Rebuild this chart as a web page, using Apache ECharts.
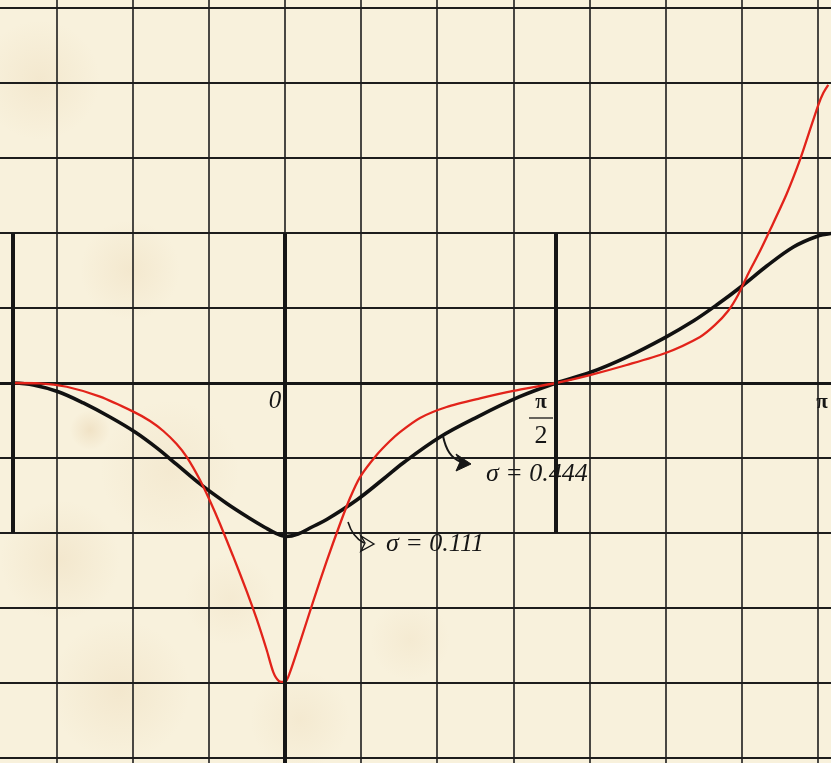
<!DOCTYPE html>
<html><head><meta charset="utf-8">
<script src="https://cdn.jsdelivr.net/npm/echarts@6/dist/echarts.min.js"></script>
<style>html,body{margin:0;padding:0;background:#f7f0da}#c{width:831px;height:763px}</style>
</head><body><div id="c"></div><script>
// sigma = 0.444 (black) — x in radians, y in chart units
const blackX = [-1.571,-1.453,-1.309,-1.164,-1.010,-0.865,-0.739,-0.624,-0.489,-0.334,-0.200,-0.113,-0.049,0.009,0.078,0.159,0.244,0.418,0.572,0.686,0.900,1.114,1.357,1.571,1.767,1.980,2.201,2.365,2.500,2.651,2.790,2.944,3.079,3.162];
const blackY = [0,-0.013,-0.058,-0.133,-0.227,-0.327,-0.433,-0.543,-0.673,-0.803,-0.903,-0.963,-1.003,-1.023,-1.007,-0.960,-0.910,-0.780,-0.640,-0.533,-0.360,-0.227,-0.093,0,0.070,0.173,0.303,0.413,0.520,0.650,0.780,0.907,0.977,0.997];
// sigma = 0.111 (red)
const redX = [-1.571,-1.415,-1.260,-1.067,-0.875,-0.778,-0.701,-0.624,-0.566,-0.489,-0.431,-0.373,-0.298,-0.219,-0.161,-0.103,-0.065,-0.032,0.003,0.032,0.090,0.167,0.244,0.321,0.379,0.437,0.533,0.610,0.668,0.784,0.938,1.131,1.324,1.571,1.767,1.980,2.201,2.404,2.491,2.566,2.624,2.682,2.751,2.809,2.905,2.982,3.040,3.088,3.117,3.146];
const redY = [0,-0.002,-0.025,-0.091,-0.191,-0.253,-0.320,-0.407,-0.493,-0.647,-0.787,-0.940,-1.153,-1.387,-1.573,-1.780,-1.927,-1.987,-1.993,-1.927,-1.727,-1.453,-1.187,-0.940,-0.767,-0.627,-0.480,-0.387,-0.327,-0.233,-0.160,-0.103,-0.053,0,0.053,0.120,0.198,0.307,0.387,0.480,0.587,0.727,0.880,1.020,1.260,1.487,1.687,1.853,1.933,1.987];
// markers on x axis (radians)
const markerX = [-Math.PI/2, 0, Math.PI/2];
const seriesNames = ['σ=0.444','σ=0.111'];

const blackData = blackX.map((x,i)=>[x,blackY[i]]);
const redData = redX.map((x,i)=>[x,redY[i]]);

const chart = echarts.init(document.getElementById('c'), null, {renderer:'canvas'});
const ink = '#161616';
const serif = '"Liberation Serif","DejaVu Serif",serif';

function stain(cx, cy, r, a){
  return {type:'circle', z:-10, silent:true, shape:{cx:cx, cy:cy, r:r},
    style:{fill:{type:'radial', x:0.5, y:0.5, r:0.5, colorStops:[
      {offset:0, color:'rgba(210,168,110,'+a+')'},{offset:1, color:'rgba(210,168,110,0)'}]}}};
}
function txt(x, y, t, font, align){
  return {type:'text', z:10, x:x, y:y, style:{text:t, font:font, fill:ink,
    align:align||'center', verticalAlign:'middle', textAlign:align||'center', textVerticalAlign:'middle'}};
}

const option = {
  backgroundColor:'#f8f1dc',
  animation:false,
  grid:{left:-19.4, right:-62.8, top:-67, bottom:-70, containLabel:false, outerBoundsMode:'none'},
  xAxis:[
    {type:'value', min:-1.7582, max:3.5250, axisLine:{show:true, onZero:true, lineStyle:{color:ink, width:3}},
     axisTick:{show:false}, axisLabel:{show:false}, splitLine:{show:false}},
    {type:'value', min:-4, max:8, interval:1, axisLine:{show:false}, axisTick:{show:false},
     axisLabel:{show:false}, splitLine:{show:true, lineStyle:{color:'#1d1d1d', width:1.6}}}
  ],
  yAxis:{type:'value', min:-3, max:3, interval:0.5, axisLine:{show:false}, axisTick:{show:false},
    axisLabel:{show:false}, splitLine:{show:true, lineStyle:{color:'#1d1d1d', width:1.9}}},
  series:[
    {name:seriesNames[0], type:'line', data:blackData, smooth:0.35, symbol:'none', z:3,
     lineStyle:{color:'#111', width:3.6},
     markLine:{silent:true, symbol:['none','none'], label:{show:false},
       lineStyle:{color:ink, width:4, type:'solid'},
       data:[
         [{coord:[markerX[0],1]},{coord:[markerX[0],-1]}],
         [{coord:[markerX[1],1]},{coord:[markerX[1],-3]}],
         [{coord:[markerX[2],1]},{coord:[markerX[2],-1]}]
       ]}},
    {name:seriesNames[1], type:'line', data:redData, smooth:0.25, symbol:'none', z:4,
     lineStyle:{color:'#e2231a', width:2.3}}
  ],
  graphic:[
    stain(40,80,60,0.12), stain(130,270,50,0.12), stain(170,470,70,0.1),
    stain(60,560,60,0.13), stain(120,690,70,0.13), stain(300,720,50,0.1), stain(410,640,40,0.09),
    stain(90,430,20,0.2), stain(230,600,45,0.09),
    txt(275, 401, '0', 'italic 25px '+serif),
    txt(541, 403, 'π', 'bold 21px '+serif),
    {type:'line', z:10, shape:{x1:529, y1:418, x2:553, y2:418}, style:{stroke:ink, lineWidth:1.3}},
    txt(541, 436, '2', '26px '+serif),
    txt(822, 403, 'π', 'bold 21px '+serif),
    txt(486, 474, 'σ = 0.444', 'italic 26px '+serif, 'left'),
    txt(386, 544, 'σ = 0.111', 'italic 26px '+serif, 'left'),
    {type:'bezierCurve', z:10, shape:{x1:443, y1:436, cpx1:446, cpy1:450, cpx2:451, cpy2:458, x2:461, y2:462},
     style:{stroke:ink, lineWidth:2, fill:null}},
    {type:'polygon', z:10, shape:{points:[[471,464],[456,454],[460,462],[456,471]]}, style:{fill:ink, stroke:ink, lineWidth:1}},
    {type:'bezierCurve', z:10, shape:{x1:348, y1:522, cpx1:351, cpy1:532, cpx2:356, cpy2:539, x2:364, y2:543},
     style:{stroke:ink, lineWidth:1.6, fill:null}},
    {type:'polygon', z:10, shape:{points:[[374,544],[361,536],[365,543],[361,551]]}, style:{fill:'#f8f1dc', stroke:ink, lineWidth:1.4}}
  ]
};
chart.setOption(option);
</script></body></html>
